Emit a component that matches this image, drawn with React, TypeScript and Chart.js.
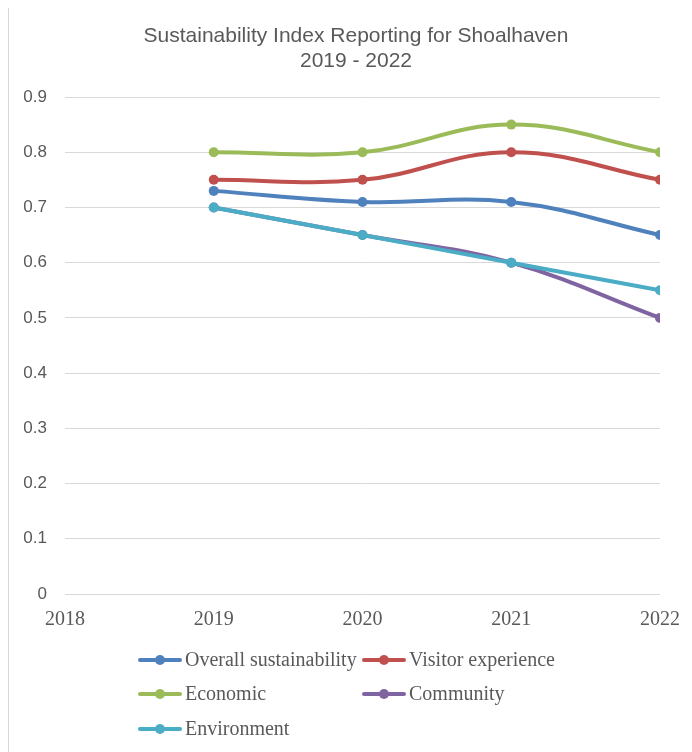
import React, { useEffect, useRef } from "react";
import { Chart, registerables } from "chart.js";

Chart.register(...registerables);

const titleLines = ["Sustainability Index Reporting for Shoalhaven", "2019 - 2022"];
const years = [2019, 2020, 2021, 2022];
const xTicks = [2018, 2019, 2020, 2021, 2022];
const yTicks = [0, 0.1, 0.2, 0.3, 0.4, 0.5, 0.6, 0.7, 0.8, 0.9];

const seriesNames = [
  "Overall sustainability",
  "Visitor experience",
  "Economic",
  "Community",
  "Environment",
];
const overall = [0.73, 0.71, 0.71, 0.65];
const visitor = [0.75, 0.75, 0.8, 0.75];
const economic = [0.8, 0.8, 0.85, 0.8];
const community = [0.7, 0.65, 0.6, 0.5];
const environment = [0.7, 0.65, 0.6, 0.55];
const seriesValues = [overall, visitor, economic, community, environment];
const seriesColors = ["#4F81BD", "#C0504D", "#9BBB59", "#8064A2", "#4BACC6"];

const TEXT = "#595959";
const GRID = "#d9d9d9";

const legendPlugin = {
  id: "gridLegend",
  afterDraw(chart: any) {
    const ctx = chart.ctx;
    const colX = [129, 353];
    const rowY = [653, 687, 722];
    ctx.save();
    ctx.font = '20px "Liberation Serif"';
    ctx.textBaseline = "middle";
    ctx.textAlign = "left";
    seriesNames.forEach((name, i) => {
      const x = colX[i % 2];
      const y = rowY[Math.floor(i / 2)];
      const c = seriesColors[i];
      ctx.strokeStyle = c;
      ctx.lineWidth = 4;
      ctx.lineCap = "round";
      ctx.beginPath();
      ctx.moveTo(x + 2, y);
      ctx.lineTo(x + 42, y);
      ctx.stroke();
      ctx.fillStyle = c;
      ctx.beginPath();
      ctx.arc(x + 22, y, 5, 0, Math.PI * 2);
      ctx.fill();
      ctx.fillStyle = TEXT;
      ctx.fillText(name, x + 47, y + 1);
    });
    ctx.restore();
  },
};

export default function App() {
  const ref = useRef<HTMLCanvasElement | null>(null);
  useEffect(() => {
    if (!ref.current) return;
    const chart = new Chart(ref.current, {
      type: "line",
      data: {
        datasets: seriesNames.map((name, i) => ({
          label: name,
          data: years.map((yr, j) => ({ x: yr, y: seriesValues[i][j] })),
          borderColor: seriesColors[i],
          backgroundColor: seriesColors[i],
          pointBackgroundColor: seriesColors[i],
          pointBorderWidth: 0,
          pointRadius: 5,
          borderWidth: 4,
          tension: 0.4,
          fill: false,
          order: seriesNames.length - i,
        })),
      },
      options: {
        animation: false,
        responsive: true,
        maintainAspectRatio: false,
        layout: { padding: { left: 0, right: 0, top: 0, bottom: 131 } },
        plugins: {
          legend: { display: false },
          tooltip: { enabled: false },
          title: {
            display: true,
            text: titleLines,
            color: TEXT,
            font: { family: '"Liberation Sans"', size: 21, weight: "normal", lineHeight: "25px" },
            padding: { top: 17, bottom: 23 },
          },
        },
        scales: {
          x: {
            type: "linear",
            min: xTicks[0],
            max: xTicks[xTicks.length - 1],
            afterBuildTicks: (scale: any) => {
              scale.ticks = xTicks.map((v) => ({ value: v }));
            },
            afterFit: (scale: any) => {
              scale.height = 40;
            },
            grid: { display: false, drawTicks: false },
            border: { display: false },
            ticks: {
              color: TEXT,
              font: { family: '"Liberation Serif"', size: 20 },
              padding: 14,
              maxRotation: 0,
              autoSkip: false,
              callback: (v: any) => String(v),
            },
          },
          y: {
            type: "linear",
            min: yTicks[0],
            max: yTicks[yTicks.length - 1],
            afterBuildTicks: (scale: any) => {
              scale.ticks = yTicks.map((v) => ({ value: v }));
            },
            afterFit: (scale: any) => {
              scale.width = 56;
            },
            grid: { color: GRID, lineWidth: 1, drawTicks: false },
            border: { display: false },
            ticks: {
              color: TEXT,
              font: { family: '"Liberation Sans"', size: 17 },
              padding: 18,
              autoSkip: false,
              callback: (v: any) => String(Number(Number(v).toFixed(1))),
            },
          },
          yRightSpace: {
            type: "linear",
            position: "right",
            min: 0,
            max: 1,
            afterFit: (scale: any) => {
              scale.width = 43;
            },
            grid: { display: false, drawTicks: false },
            border: { display: false },
            ticks: { display: false },
          },
        },
      },
      plugins: [legendPlugin],
    });
    return () => chart.destroy();
  }, []);

  return (
    <div style={{ width: 684, height: 746, overflow: "hidden", marginTop: -2 }}>
      <div
        style={{
          width: 696,
          height: 760,
          border: `1px solid ${GRID}`,
          boxSizing: "border-box",
          position: "relative",
          background: "#fff",
        }}
      >
        <canvas ref={ref} />
      </div>
    </div>
  );
}
